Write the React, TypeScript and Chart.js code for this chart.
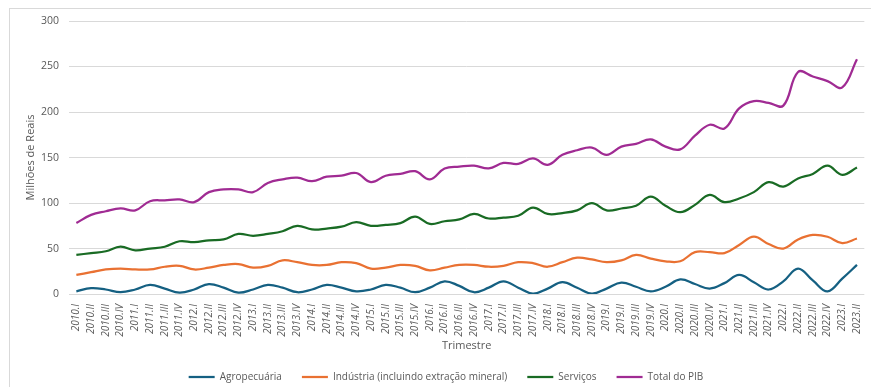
import React, { useEffect, useRef } from "react";
import { Chart, registerables } from "chart.js";

Chart.register(...registerables);

const quarters: string[] = [];
const years = [2010, 2011, 2012, 2013, 2014, 2015, 2016, 2017, 2018, 2019, 2020, 2021, 2022, 2023];
const romans = ["I", "II", "III", "IV"];
for (const y of years) {
  for (const r of romans) {
    if (y === 2023 && (r === "III" || r === "IV")) continue;
    quarters.push(`${y}.${r}`);
  }
}

const agropecuaria = [
  3, 6.5, 5, 2, 5, 10, 6, 1.5, 5, 11, 7, 1.5, 5, 10, 7, 2, 5, 10, 7, 3,
  5, 10, 7, 2, 7, 14, 9, 2, 7, 14, 7, 0.5, 6, 13, 7, 0.5, 6, 12.5, 8, 3,
  8, 16, 11, 6, 12, 21, 13, 5, 14, 28, 15, 3, 17, 32,
];
const industria = [
  21, 24, 27, 28, 27, 27, 30, 31, 27, 29, 32, 33, 29, 31, 37, 35, 32, 32, 35, 34,
  28, 29, 32, 31, 26, 29, 32, 32, 30, 31, 35, 34, 30, 35, 40, 38, 35, 37, 43, 39,
  36, 36, 46, 46, 45, 54, 63, 55, 50, 60, 65, 63, 56, 61,
];
const servicos = [
  43, 45, 47, 52, 48, 50, 52, 58, 57, 59, 60, 66, 64, 66, 69, 75, 71, 72, 74, 79,
  75, 76, 78, 85, 77, 80, 82, 88, 83, 84, 86, 95, 88, 89, 92, 100, 92, 94, 97, 107,
  97, 90, 98, 109, 101, 105, 112, 123, 118, 127, 132, 141, 131, 139,
];
const totalPib = [
  78, 87, 91, 94, 92, 102, 103, 104, 101, 112, 115, 115, 112, 122, 126, 128, 124, 129, 130, 133,
  123, 130, 132, 135, 126, 138, 140, 141, 138, 144, 143, 149, 142, 153, 158, 161, 153, 162, 165, 170,
  162, 159, 174, 186, 182, 204, 212, 210, 207, 244, 239, 234, 227, 258,
];

const seriesNames = ["Agropecuária", "Indústria (incluindo extração mineral)", "Serviços", "Total do PIB"];
const seriesColors = ["#156082", "#E97132", "#196B24", "#A02B93"];
const yTicks = [0, 50, 100, 150, 200, 250, 300];

const FONT = "'Open Sans', sans-serif";
const GRAY = "#595959";

export default function App() {
  const ref = useRef<HTMLCanvasElement | null>(null);
  useEffect(() => {
    document.body.style.margin = "0";
    const values = [agropecuaria, industria, servicos, totalPib];
    const chart = new Chart(ref.current!, {
      type: "line",
      data: {
        labels: quarters,
        datasets: values.map((v, i) => ({
          label: seriesNames[i],
          data: v,
          borderColor: seriesColors[i],
          backgroundColor: seriesColors[i],
          borderWidth: 2.25,
          pointRadius: 0,
          tension: 0.4,
          fill: false,
        })),
      },
      options: {
        animation: false,
        responsive: false,
        maintainAspectRatio: false,
        layout: { padding: { left: 24, right: 3, top: 21, bottom: -5 } },
        plugins: {
          tooltip: { enabled: false },
          legend: {
            position: "bottom",
            labels: {
              color: GRAY,
              font: { family: FONT, size: 10 },
              usePointStyle: true,
              pointStyle: "line",
              pointStyleWidth: 26,
              padding: 20,
            },
          },
        },
        scales: {
          x: {
            offset: true,
            grid: { display: false },
            border: { display: false },
            ticks: {
              color: GRAY,
              font: { family: FONT, size: 10, style: "italic" },
              maxRotation: 90,
              minRotation: 90,
              autoSkip: false,
              padding: 2,
            },
            title: {
              display: true,
              text: "Trimestre",
              color: GRAY,
              font: { family: FONT, size: 11 },
              padding: { top: 0, bottom: 0 },
            },
          },
          y: {
            min: 0,
            max: 300,
            afterBuildTicks: (axis: any) => {
              axis.ticks = yTicks.map((v) => ({ value: v }));
            },
            afterFit: (axis: any) => {
              axis.width = 45;
            },
            grid: { color: "#d9d9d9", lineWidth: 1, drawTicks: false },
            border: { display: false },
            ticks: {
              color: GRAY,
              font: { family: FONT, size: 10.5 },
              padding: 10,
            },
            title: {
              display: true,
              text: "Milhões de Reais",
              color: GRAY,
              font: { family: FONT, size: 11 },
              padding: { top: 0, bottom: 0 },
            },
          },
        },
      },
    });
    return () => chart.destroy();
  }, []);
  return (
    <div style={{ position: "relative", width: 871, height: 387, overflow: "hidden" }}>
      <div
        style={{
          position: "absolute",
          left: 9,
          top: 8,
          width: 880,
          height: 400,
          border: "1px solid #d9d9d9",
          boxSizing: "border-box",
        }}
      />
      <canvas ref={ref} width={871} height={387} style={{ position: "absolute", left: 0, top: 0, width: 871, height: 387 }} />
    </div>
  );
}
